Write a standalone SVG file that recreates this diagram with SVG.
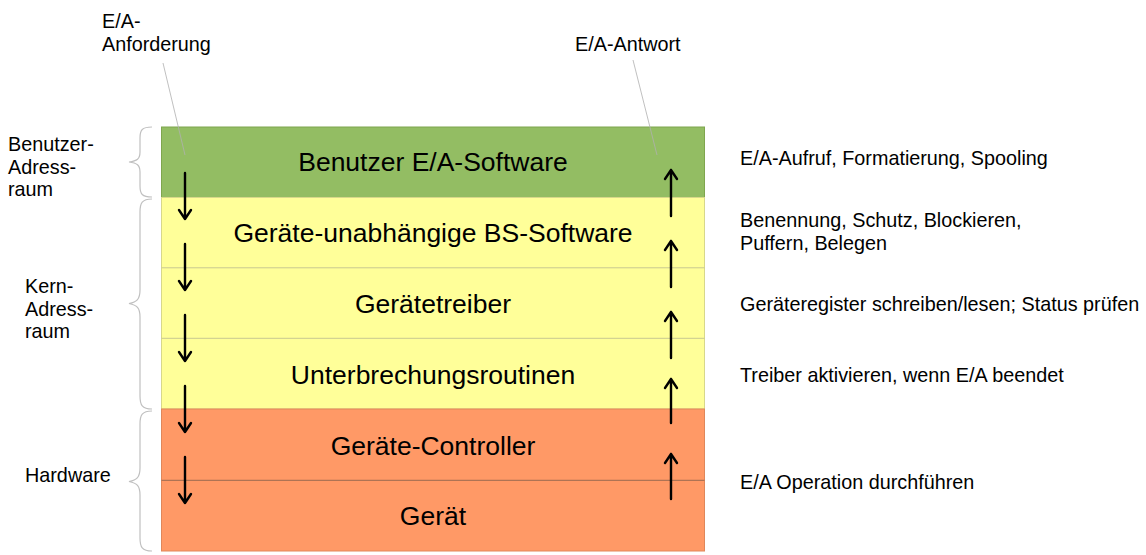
<svg xmlns="http://www.w3.org/2000/svg" width="1146" height="555" viewBox="0 0 1146 555">
<style>
text{font-family:"Liberation Sans",Arial,sans-serif;fill:#000}
.main{font-size:26.5px;text-anchor:middle}
.lbl{font-size:19.8px}
.brace{fill:none;stroke:#c0c0c0;stroke-width:1.2}
.lead{fill:none;stroke:#b0b0b0;stroke-width:0.8}
.arr{fill:none;stroke:#000;stroke-width:2.4;stroke-linecap:round;stroke-linejoin:round}
</style>
<rect width="1146" height="555" fill="#fff"/>
<g id="layer-user">
<rect x="161.5" y="127" width="543" height="70.5" fill="#93bd63" stroke="#7fa64e" stroke-width="1"/>
<text class="main" x="433" y="170.5">Benutzer E/A-Software</text>
</g>
<g id="layer-kernel">
<rect x="161.5" y="197.5" width="543" height="211.5" fill="#ffff99" stroke="#d8d88a" stroke-width="1"/>
<line x1="161.5" y1="267.8" x2="704.5" y2="267.8" stroke="#c8c890" stroke-width="1"/>
<line x1="161.5" y1="338.3" x2="704.5" y2="338.3" stroke="#c8c890" stroke-width="1"/>
<text class="main" x="433" y="242">Geräte-unabhängige BS-Software</text>
<text class="main" x="433" y="313">Gerätetreiber</text>
<text class="main" x="433" y="384">Unterbrechungsroutinen</text>
</g>
<g id="layer-hw">
<rect x="161.5" y="409" width="543" height="142" fill="#ff9966" stroke="#e0875a" stroke-width="1"/>
<line x1="161.5" y1="480.3" x2="704.5" y2="480.3" stroke="#9a6a50" stroke-width="1"/>
<text class="main" x="433" y="455">Geräte-Controller</text>
<text class="main" x="433" y="525">Gerät</text>
</g>
<g id="braces">
<path class="brace" d="M152,127 C142,127 140,130 140,138 L140,152 C140,159 137,161 129,162 C137,163 140,165 140,172 L140,186 C140,194 142,197 152,197"/>
<path class="brace" d="M152,199 C142,199 140,203 140,212 L140,290 C140,299 137,302 129,303.5 C137,305 140,308 140,317 L140,396 C140,405 142,409 152,409"/>
<path class="brace" d="M152,411 C142,411 140,415 140,424 L140,468 C140,477 137,480 129,481.5 C137,483 140,486 140,495 L140,538 C140,547 142,551 152,551"/>
</g>
<g id="side-labels">
<text class="lbl" x="8" y="151">Benutzer-</text>
<text class="lbl" x="8" y="173.5">Adress-</text>
<text class="lbl" x="8" y="196">raum</text>
<text class="lbl" x="25" y="293">Kern-</text>
<text class="lbl" x="25" y="315.5">Adress-</text>
<text class="lbl" x="25" y="338">raum</text>
<text class="lbl" x="25" y="482">Hardware</text>
</g>
<g id="top-labels">
<text class="lbl" x="102" y="28">E/A-</text>
<text class="lbl" x="102" y="51">Anforderung</text>
<text class="lbl" x="575" y="51">E/A-Antwort</text>
</g>
<g id="descriptions">
<text class="lbl" x="740" y="165">E/A-Aufruf, Formatierung, Spooling</text>
<text class="lbl" x="740" y="227">Benennung, Schutz, Blockieren,</text>
<text class="lbl" x="740" y="250">Puffern, Belegen</text>
<text class="lbl" x="740" y="311">Geräteregister schreiben/lesen; Status prüfen</text>
<text class="lbl" x="740" y="382">Treiber aktivieren, wenn E/A beendet</text>
<text class="lbl" x="740" y="489">E/A Operation durchführen</text>
</g>
<g id="connectors">
<line class="lead" x1="163" y1="63" x2="185" y2="155"/>
<line class="lead" x1="633" y1="60" x2="657" y2="155"/>
<path class="arr" d="M185,173 V219 M179,210 L185,219 L191,210"/>
<path class="arr" d="M185,244 V290 M179,281 L185,290 L191,281"/>
<path class="arr" d="M185,315 V361 M179,352 L185,361 L191,352"/>
<path class="arr" d="M185,386 V432 M179,423 L185,432 L191,423"/>
<path class="arr" d="M185,457 V503 M179,494 L185,503 L191,494"/>
<path class="arr" d="M671,216 V170 M665,179 L671,170 L677,179"/>
<path class="arr" d="M671,287 V241 M665,250 L671,241 L677,250"/>
<path class="arr" d="M671,358 V312 M665,321 L671,312 L677,321"/>
<path class="arr" d="M671,423 V379 M665,388 L671,379 L677,388"/>
<path class="arr" d="M671,499 V454 M665,463 L671,454 L677,463"/>
</g>
</svg>
